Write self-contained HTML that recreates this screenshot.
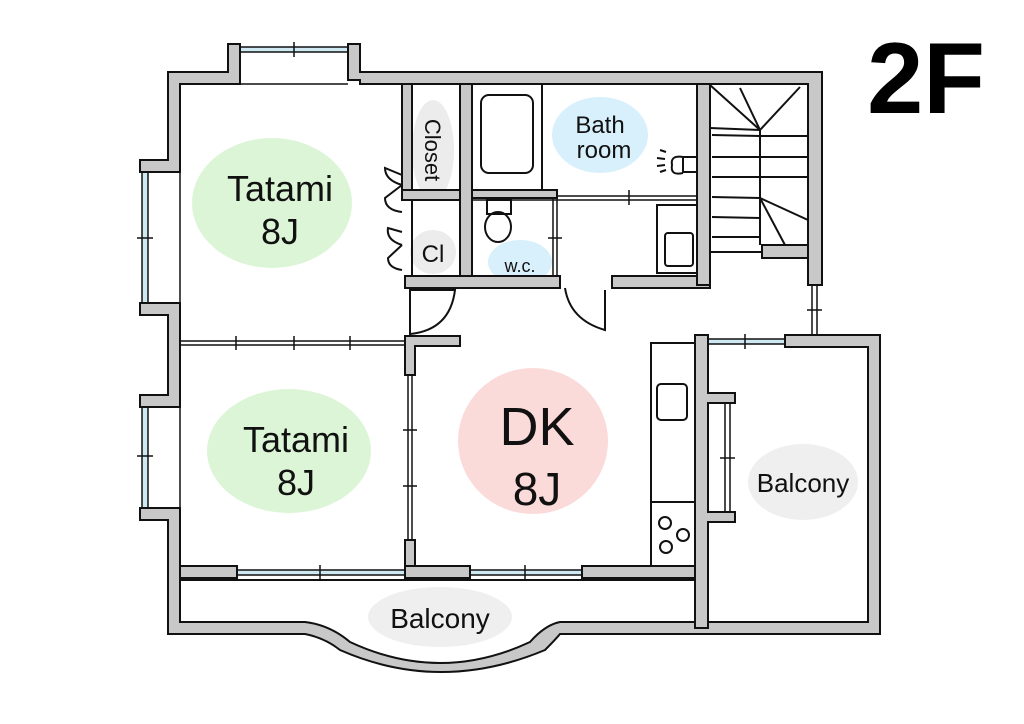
<!DOCTYPE html>
<html><head><meta charset="utf-8"><style>
html,body{margin:0;padding:0;background:#fff;}
svg{display:block}
text{font-family:"Liberation Sans",sans-serif;fill:#111;}
</style></head><body>
<svg width="1024" height="724" viewBox="0 0 1024 724" xmlns="http://www.w3.org/2000/svg">
<!-- blobs -->
<ellipse cx="272" cy="203" rx="80" ry="65" fill="#dcf5d6"/>
<ellipse cx="289" cy="451" rx="82" ry="62" fill="#dcf5d6"/>
<ellipse cx="533" cy="441" rx="75" ry="73" fill="#fbdada"/>
<ellipse cx="600" cy="135" rx="48" ry="38" fill="#d8f0fb"/>
<ellipse cx="433" cy="150" rx="21" ry="50" fill="#ececec"/>
<ellipse cx="433" cy="252" rx="23" ry="22" fill="#ececec"/>
<ellipse cx="520" cy="262" rx="32" ry="22" fill="#d8f0fb"/>
<ellipse cx="803" cy="482" rx="55" ry="38" fill="#efefef"/>
<ellipse cx="440" cy="617" rx="72" ry="30" fill="#efefef"/>

<g fill="none" stroke="#111" stroke-width="2">
<g stroke="#111" stroke-width="1.5">
<rect x="240" y="47" width="108" height="5" fill="#cfe9f3"/>
<rect x="142" y="170" width="6" height="135" fill="#cfe9f3"/>
<rect x="142" y="405" width="6" height="105" fill="#cfe9f3"/>
<rect x="237" y="570" width="168" height="5" fill="#cfe9f3"/>
<rect x="470" y="570" width="112" height="5" fill="#cfe9f3"/>
<rect x="708" y="339" width="77" height="5" fill="#cfe9f3"/>
<rect x="812" y="285" width="5" height="50" fill="#fff"/>
<rect x="725" y="403" width="5" height="109" fill="#fff"/>
<line x1="180" y1="341" x2="405" y2="341"/><line x1="180" y1="345" x2="405" y2="345"/>
<line x1="408" y1="375" x2="408" y2="540"/><line x1="412" y1="375" x2="412" y2="540"/>
<line x1="472" y1="196" x2="697" y2="196"/><line x1="472" y1="200" x2="697" y2="200"/>
<line x1="553" y1="198" x2="553" y2="280"/><line x1="557" y1="198" x2="557" y2="280"/>
<line x1="180" y1="172" x2="180" y2="303"/>
<line x1="180" y1="407" x2="180" y2="508"/>
<line x1="240" y1="84" x2="348" y2="84"/>
<line x1="294" y1="42" x2="294" y2="57"/>
<line x1="137" y1="238" x2="153" y2="238"/>
<line x1="137" y1="456" x2="153" y2="456"/>
<line x1="236" y1="336" x2="236" y2="350"/><line x1="294" y1="336" x2="294" y2="350"/><line x1="350" y1="336" x2="350" y2="350"/>
<line x1="403" y1="430" x2="417" y2="430"/><line x1="403" y1="486" x2="417" y2="486"/>
<line x1="320" y1="565" x2="320" y2="580"/><line x1="525" y1="565" x2="525" y2="580"/>
<line x1="745" y1="334" x2="745" y2="349"/>
<line x1="807" y1="310" x2="822" y2="310"/>
<line x1="720" y1="458" x2="735" y2="458"/>
<line x1="629" y1="190" x2="629" y2="205"/>
<line x1="548" y1="238" x2="562" y2="238"/>
</g>
<g fill="#c8c8c8" stroke="#111" stroke-width="2">
<path d="M168,72 H228 V44 H240 V84 H180 V172 H140 V160 H168 Z"/>
<path d="M348,44 H360 V72 H822 V285 H808 V84 H360 V80 H348 Z"/>
<path d="M140,303 H180 V407 H140 V395 H168 V315 H140 Z"/>
<path d="M140,508 H180 V622 H305 Q330,625 350,642 Q440,684 530,642 Q545,625 560,622 H868 V347 H785 V335 H880 V634 H560 Q555,640 545,650 Q440,694 340,650 Q325,638 305,634 H168 V520 H140 Z"/>
<path d="M180,566 H237 V578 H180 Z"/>
<path d="M405,566 H470 V578 H405 Z"/>
<path d="M405,336 H460 V346 H415 V375 H405 Z"/>
<path d="M405,540 H415 V566 H405 Z"/>
<path d="M582,566 H695 V578 H582 Z"/>
<path d="M695,335 H708 V393 H735 V403 H708 V512 H735 V522 H708 V628 H695 Z"/>
<path d="M402,84 H412 V190 H402 Z"/>
<path d="M402,190 H465 V200 H402 Z"/>
<path d="M460,84 H472 V276 H460 Z"/>
<path d="M472,190 H557 V198 H472 Z"/>
<path d="M405,276 H560 V288 H405 Z"/>
<path d="M612,276 H710 V288 H612 Z"/>
<path d="M697,84 H710 V285 H697 Z"/>
<path d="M762,245 H808 V258 H762 Z"/>
</g>
<line x1="180" y1="580" x2="695" y2="580"/>
<line x1="708" y1="622" x2="868" y2="622"/>
<rect x="412" y="84" width="48" height="106"/>
<rect x="412" y="200" width="48" height="76"/>
<line x1="410" y1="288" x2="410" y2="336"/>
<path d="M410,334 Q450,330 455,290 H410"/>
<path d="M402,175 L385,168 Q385,180 402,185 M402,185 L385,198 Q385,210 402,212"/>
<path d="M402,232 L388,228 Q386,240 402,245 M402,245 L388,258 Q388,268 402,270"/>
<rect x="472" y="84" width="70" height="106"/>
<rect x="481" y="95" width="52" height="78" rx="8"/>
<path d="M683,157 H697 V172 H683 Z M683,157 Q670,155 672,165 Q670,176 683,173"/>
<path d="M660,150 l6,2 M657,158 l8,1 M657,166 l8,-1 M660,172 l6,-2"/>
<rect x="487" y="200" width="24" height="14"/>
<ellipse cx="498" cy="227" rx="13" ry="15"/>
<path d="M565,288 Q570,320 605,330 V290"/>
<rect x="657" y="205" width="40" height="68"/>
<rect x="665" y="233" width="28" height="33" rx="3"/>
<line x1="710" y1="128" x2="760" y2="130"/>
<line x1="710" y1="85" x2="760" y2="130"/>
<line x1="740" y1="88" x2="760" y2="130"/>
<line x1="800" y1="87" x2="760" y2="130"/>
<line x1="760" y1="136" x2="808" y2="136"/>
<line x1="760" y1="130" x2="760" y2="245"/>
<line x1="712" y1="135" x2="760" y2="136"/>
<line x1="712" y1="157" x2="808" y2="157"/>
<line x1="712" y1="177" x2="808" y2="177"/>
<line x1="712" y1="197" x2="760" y2="198"/>
<line x1="712" y1="217" x2="760" y2="218"/>
<line x1="712" y1="237" x2="760" y2="237"/>
<line x1="760" y1="198" x2="808" y2="220"/>
<line x1="760" y1="198" x2="785" y2="245"/>
<line x1="710" y1="252" x2="762" y2="252"/>
<rect x="651" y="343" width="44" height="223"/>
<line x1="651" y1="502" x2="695" y2="502"/>
<rect x="657" y="384" width="30" height="36" rx="4"/>
<circle cx="665" cy="523" r="6"/><circle cx="683" cy="535" r="6"/><circle cx="666" cy="547" r="6"/>
</g>
<text x="985" y="113" font-size="101" font-weight="bold" text-anchor="end" style="fill:#000">2F</text>
<text x="280" y="201" font-size="36" text-anchor="middle">Tatami</text>
<text x="280" y="244" font-size="36" text-anchor="middle">8J</text>
<text x="296" y="452" font-size="36" text-anchor="middle">Tatami</text>
<text x="296" y="495" font-size="36" text-anchor="middle">8J</text>
<text x="537" y="445" font-size="54" text-anchor="middle">DK</text>
<text x="537" y="505" font-size="46" text-anchor="middle">8J</text>
<text x="600" y="133" font-size="24" text-anchor="middle">Bath</text>
<text x="604" y="158" font-size="24" text-anchor="middle">room</text>
<text x="520" y="272" font-size="18" text-anchor="middle">w.c.</text>
<text x="433" y="262" font-size="24" text-anchor="middle">Cl</text>
<text transform="translate(425,150) rotate(90)" font-size="22" text-anchor="middle">Closet</text>
<text x="803" y="492" font-size="26" text-anchor="middle">Balcony</text>
<text x="440" y="628" font-size="28" text-anchor="middle">Balcony</text>
</svg>
</body></html>
